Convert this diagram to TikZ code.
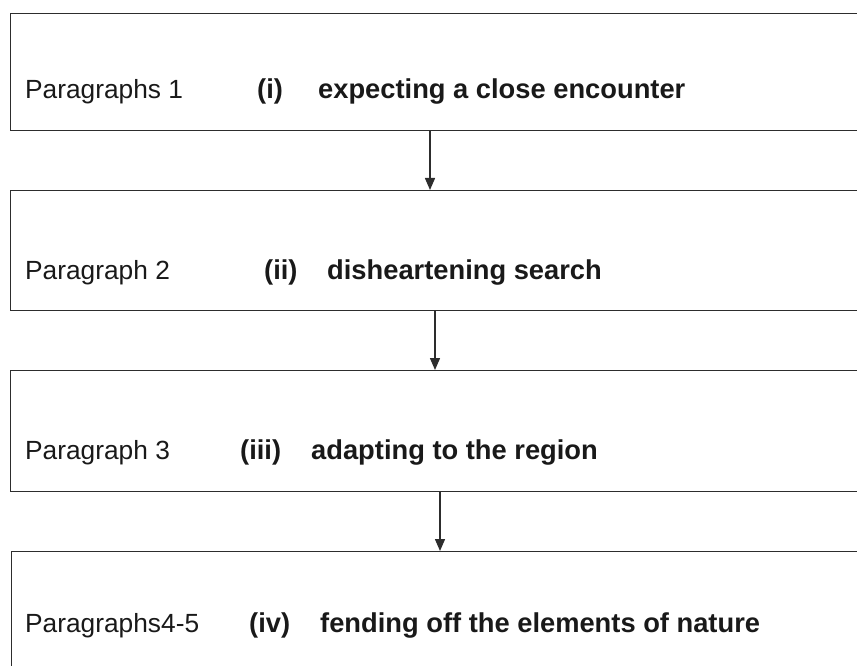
\documentclass[tikz,border=0pt]{standalone}
\usepackage{fontspec}
\setmainfont{Liberation Sans}
\usepackage{xcolor}
\definecolor{boxgray}{RGB}{45, 45, 45}
\definecolor{inkblack}{RGB}{25, 25, 25}
\usetikzlibrary{arrows.meta, positioning}

\tikzset{
  parabox/.style={draw=boxgray, line width=1.4pt, rectangle, minimum width=900pt, anchor=north west, inner sep=0pt},
  paralabel/.style={anchor=base west, inner sep=0pt, text=inkblack, font=\fontsize{26.3}{30}\selectfont},
  themelabel/.style={paralabel, font=\fontsize{27.3}{30}\selectfont\bfseries},
  flow/.style={->, line width=1.4pt, draw=boxgray}
}

\begin{document}
\begin{tikzpicture}[x=1pt, y=-1pt, >={Triangle[length=12pt, width=10pt]}]
    \useasboundingbox (0,0) rectangle (857,666);
    % boxes, running off the right edge
    \node[parabox, minimum height=117pt] (p1) at (10,13) {};
    \node[parabox, minimum height=120pt] (p2) at (10,190) {};
    \node[parabox, minimum height=121pt] (p3) at (10,370) {};
    \node[parabox, minimum height=140pt] (p4) at (11,551) {};
    % labels
    \node[paralabel] (n1) at (25,99) {Paragraphs 1};
    \node[themelabel] (r1) at (257,99) {(i)};
    \node[themelabel] (t1) at (318,99) {expecting a close encounter};
    \node[paralabel] (n2) at (25,279) {Paragraph 2};
    \node[themelabel] (r2) at (264,279) {(ii)};
    \node[themelabel] (t2) at (327,279) {disheartening search};
    \node[paralabel] (n3) at (25,459) {Paragraph 3};
    \node[themelabel] (r3) at (240,459) {(iii)};
    \node[themelabel] (t3) at (311,459) {adapting to the region};
    \node[paralabel] (n4) at (25,632) {Paragraphs4-5};
    \node[themelabel] (r4) at (249,632) {(iv)};
    \node[themelabel] (t4) at (320,632) {fending off the elements of nature};
    % arrows
    \draw[flow] ([xshift=420pt]p1.south west) -- ([xshift=420pt]p2.north west);
    \draw[flow] ([xshift=425pt]p2.south west) -- ([xshift=425pt]p3.north west);
    \draw[flow] ([xshift=430pt]p3.south west) -- ([xshift=429pt]p4.north west);
\end{tikzpicture}
\end{document}
